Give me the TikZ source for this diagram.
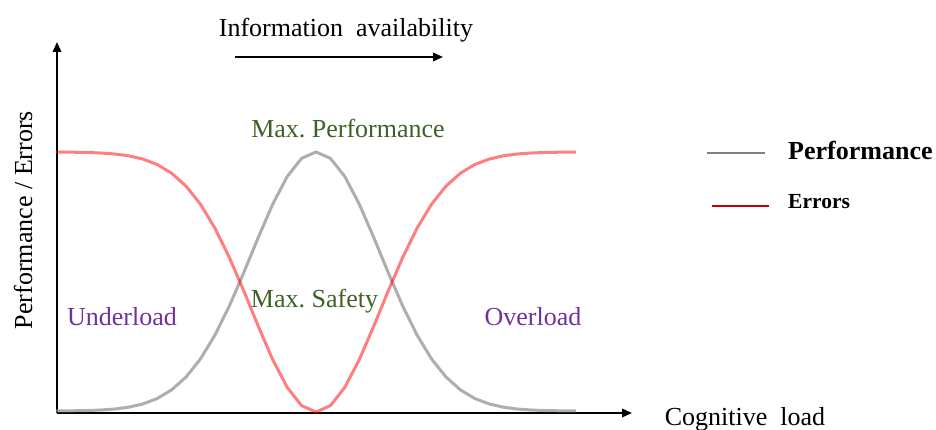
\documentclass[tikz,border=0pt]{standalone}
\usepackage{fontspec}
\setmainfont{Liberation Serif}
\usetikzlibrary{arrows.meta}
\definecolor{olivetext}{HTML}{3F6128}
\definecolor{purpletext}{HTML}{7030A0}
\definecolor{legendred}{HTML}{C00000}
\definecolor{legendgray}{HTML}{808080}
\tikzset{
  axisline/.style={line width=1.8pt,-{Triangle[length=10pt,width=8.5pt]}},
  lbl/.style={font=\fontsize{26}{31}\selectfont,inner sep=0pt,anchor=base},
  perfcurve/.style={line width=3pt,draw=black!45,draw opacity=0.7,line join=round},
  errcurve/.style={line width=3pt,draw=red,draw opacity=0.5,line join=round},
}
\begin{document}
\begin{tikzpicture}[x=1pt,y=-1pt]
\useasboundingbox (0,0) rectangle (936,430);

% axes
\coordinate (O) at (57,413);
\coordinate (ytop) at (57,42);
\coordinate (xend) at (632,413);
\draw[axisline] (O) -- (ytop);
\draw[axisline] (O) -- (xend);

% performance (bell) and errors (inverted bell)
\draw[perfcurve] plot[domain=-4.03:4.03,samples=37]
  ({316+64.5*\x},{411-259*exp(-\x*\x/2)});
\draw[errcurve] plot[domain=-4.03:4.03,samples=37]
  ({316+64.5*\x},{152+260*exp(-\x*\x/2)});

% information availability arrow
\node[lbl] (info) at (346,37) {Information\ \ availability};
\coordinate (ia) at (235,57);
\coordinate (ib) at (443,57);
\draw[line width=1.8pt,-{Triangle[length=10pt,width=8.5pt]}] (ia) -- (ib);

% annotations
\node[lbl,text=olivetext] (maxperf) at (348,138) {Max.\ Performance};
\node[lbl,text=olivetext] (maxsafe) at (314.5,307) {Max.\ Safety};
\node[lbl,text=purpletext] (under) at (122,325) {Underload};
\node[lbl,text=purpletext] (over) at (533,325) {Overload};
\node[lbl] (xlab) at (745,425) {Cognitive\ \ load};
\node[lbl,rotate=90] (ylab) at (32,220) {Performance / Errors};

% legend
\coordinate (lg1) at (707,153);
\coordinate (lg2) at (765,153);
\draw[line width=2.5pt,legendgray] (lg1) -- (lg2);
\node[lbl,anchor=base west,font=\fontsize{26}{31}\selectfont\bfseries] (legperf) at (788,160) {Performance};
\coordinate (lr1) at (712,206);
\coordinate (lr2) at (769,206);
\draw[line width=2.5pt,legendred] (lr1) -- (lr2);
\node[lbl,anchor=base west,font=\fontsize{21.5}{26}\selectfont\bfseries] (legerr) at (788,209) {Errors};
\end{tikzpicture}
\end{document}
